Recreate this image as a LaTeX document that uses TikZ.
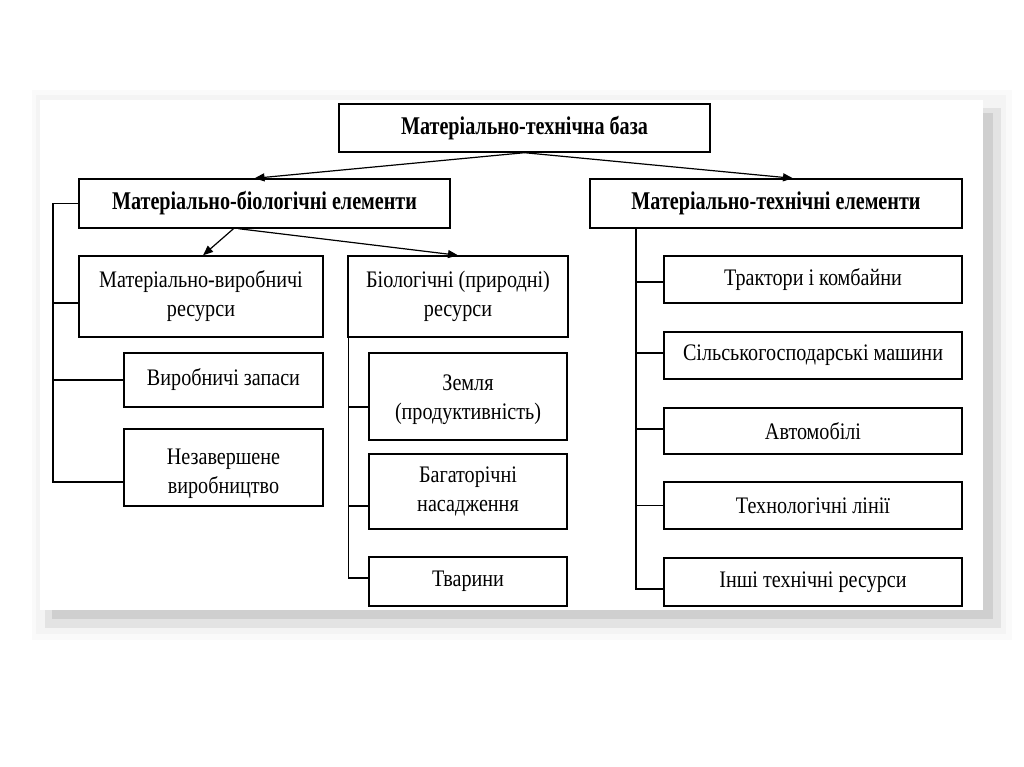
\documentclass[tikz,border=0pt]{standalone}
\usepackage{fontspec}
\setmainfont{Liberation Serif}[FakeStretch=0.85]
\newfontfamily\hdfont{Liberation Serif}[FakeStretch=0.79]
\usetikzlibrary{arrows.meta}
\tikzset{
  box/.style={draw=black, line width=1.4pt, fill=white, align=center, inner sep=0pt,
    font=\fontsize{23.7}{29}\selectfont},
  headbox/.style={box, font=\hdfont\bfseries\fontsize{25.5}{30}\selectfont},
  arr/.style={line width=1.2pt, -{Triangle[length=10pt,width=8pt]}},
  brk/.style={line width=1.2pt},
}
\newcommand{\lowtext}[2]{\raisebox{-#1}[\height][\depth]{\begin{tabular}{@{}c@{}}#2\end{tabular}}}
\begin{document}
\begin{tikzpicture}[x=1pt,y=-1pt]
\useasboundingbox (0,0) rectangle (1024,767);
% page shadow
\fill[gray!4] (32,90) rectangle (1012,640);
\fill[gray!9] (36,95) rectangle (1006,634);
\fill[gray!22] (45,108) rectangle (1001,628);
\fill[gray!38] (52,113) rectangle (993,619);
\fill[white] (40,100) rectangle (983,610);

% header nodes
\node[headbox, minimum width=371pt, minimum height=48pt] (top) at (524.5,128) {Матеріально-технічна база};
\node[headbox, minimum width=371pt, minimum height=49pt] (mb) at (264.5,203.5) {Матеріально-біологічні елементи};
\node[headbox, minimum width=372pt, minimum height=49pt] (mt) at (776,203.5) {Матеріально-технічні елементи};

% left group
\node[box, minimum width=244pt, minimum height=81pt] (mv) at (201,296.5) {Матеріально-виробничі\\ресурси};
\node[box, minimum width=199pt, minimum height=54pt] (vz) at (223.5,380) {Виробничі запаси};
\node[box, minimum width=199pt, minimum height=77pt] (nv) at (223.5,467.5) {\lowtext{6pt}{Незавершене\\виробництво}};

% middle group
\node[box, minimum width=220pt, minimum height=81pt] (bio) at (458,296.5) {Біологічні (природні)\\ресурси};
\node[box, minimum width=198pt, minimum height=87pt] (zem) at (468,396.5) {\lowtext{3pt}{Земля\\(продуктивність)}};
\node[box, minimum width=198pt, minimum height=75pt] (bag) at (468,491.5) {Багаторічні\\насадження};
\node[box, minimum width=198pt, minimum height=49pt] (tv) at (468,581.5) {Тварини};

% right group
\node[box, minimum width=298pt, minimum height=47pt] (tr) at (813,279.5) {Трактори і комбайни};
\node[box, minimum width=298pt, minimum height=47pt] (sg) at (813,355.5) {Сільськогосподарські машини};
\node[box, minimum width=298pt, minimum height=46pt] (av) at (813,431) {Автомобілі};
\node[box, minimum width=298pt, minimum height=47pt] (tl) at (813,505.5) {Технологічні лінії};
\node[box, minimum width=298pt, minimum height=48pt] (in) at (813,582) {Інші технічні ресурси};

% arrows
\draw[arr] (top.south) -- ([xshift=-10pt]mb.north);
\draw[arr] (top.south) -- ([xshift=17pt]mt.north);
\draw[arr] ([xshift=-31pt]mb.south) -- ([xshift=2pt]mv.north);
\draw[arr] ([xshift=-26pt]mb.south) -- (bio.north);

% left bracket
\coordinate (lbr) at (53,203.5);
\draw[brk] (mb.west) -- (lbr) |- ([yshift=-6.5pt]mv.west);
\draw[brk] (lbr) |- (vz.west);
\draw[brk] (lbr) |- ([yshift=-14.5pt]nv.west);

% middle bracket
\coordinate (mbr) at ([xshift=1pt]bio.south west);
\draw[brk] (mbr) |- ([yshift=-10.5pt]zem.west);
\draw[brk] (mbr) |- ([yshift=-14.5pt]bag.west);
\draw[brk] (mbr) |- ([yshift=3.5pt]tv.west);

% right bracket
\coordinate (rbr) at (636,228);
\draw[brk] (rbr) |- ([yshift=-2.5pt]tr.west);
\draw[brk] (rbr) |- ([yshift=2.5pt]sg.west);
\draw[brk] (rbr) |- ([yshift=2pt]av.west);
\draw[brk] (rbr) |- (tl.west);
\draw[brk] (rbr) |- ([yshift=-7pt]in.west);
\end{tikzpicture}
\end{document}
